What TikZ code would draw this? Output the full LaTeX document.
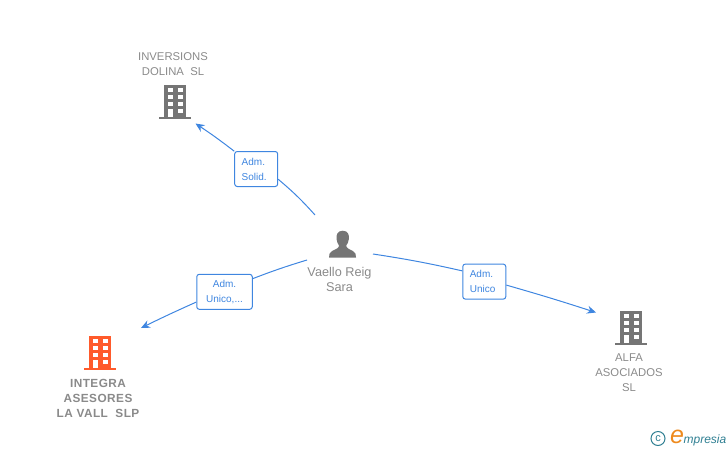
\documentclass[tikz,border=0pt]{standalone}
\usepackage{fontspec}
\setmainfont{Liberation Sans}
\newfontfamily\spacedbold[LetterSpace=4,BoldFont={Liberation Sans Bold}]{Liberation Sans}
\usetikzlibrary{arrows.meta}
\definecolor{relblue}{HTML}{3F86E0}
\definecolor{icongray}{HTML}{757575}
\definecolor{textgray}{HTML}{8A8A8A}
\definecolor{mainorange}{HTML}{FF5A2B}
\definecolor{logoteal}{HTML}{2F7F92}
\definecolor{logoorange}{HTML}{EE8A1E}
\tikzset{
    rel/.style={relblue,line width=1pt},
    relarrow/.style={rel,-{Stealth[length=9pt,width=8pt,inset=3pt]}},
    relbox/.style={draw=relblue,line width=1pt,rounded corners=2.5pt,fill=white,
        minimum height=35pt,inner sep=0pt,align=center,text=relblue,
        font=\fontsize{10}{15}\selectfont},
    relboxleft/.style={relbox,minimum width=43pt,text width=29pt,align=left},
    entity/.style={align=center,text=textgray,inner sep=0pt,
        font=\fontsize{11.3}{15}\selectfont},
    mainentity/.style={align=center,text=textgray,inner sep=0pt,
        font=\spacedbold\bfseries\fontsize{11.8}{15}\selectfont},
    person/.style={align=center,text=textgray,inner sep=0pt,
        font=\fontsize{12.7}{15}\selectfont},
    pics/building/.style={code={
        \fill[#1] (-11,-16) rectangle (11,15.5);
        \fill[#1] (-16,15.5) rectangle (16,18);
        \foreach \y in {-12.7, -5.7, 1.3}
        \foreach \x in {-7.5, 2.5}
        \fill[white] (\x,\y) rectangle (\x+5,\y+3.8);
        \fill[white] (2.5,8) rectangle (7.5,11.8);
        \fill[white] (-7.5,7.5) rectangle (-2.5,15.5);
    }}
}

\begin{document}
\begin{tikzpicture}[x=1pt,y=-1pt]
    \useasboundingbox (0,0) rectangle (728,450);

    % Companies
    \pic at (175,101) {building=icongray};
    \pic at (100,352) {building=mainorange};
    \pic at (631,327) {building=icongray};
    \node[entity] (inversions) at (173,64) {INVERSIONS\\DOLINA\ \ SL};
    \node[mainentity] (integra) at (98,398) {INTEGRA\\ASESORES\\LA VALL\ \ SLP};
    \node[entity] (alfa) at (629,373) {ALFA\\ASOCIADOS\\SL};

    % Person
    \fill[icongray] (342.7,230.7) .. controls (337.5,230.7) and (336,235) .. (336.5,239)
        .. controls (336.8,242) and (338,244) .. (339,245.5)
        .. controls (339.5,248) and (335,249.5) .. (332,251)
        .. controls (329.5,252.2) and (329,254.5) .. (329,257.5)
        -- (356,257.5)
        .. controls (356,254.5) and (355.5,252.2) .. (353,251)
        .. controls (350,249.5) and (345.8,248) .. (346.3,245.5)
        .. controls (347.3,244) and (348.6,242) .. (348.9,239)
        .. controls (349.4,235) and (348,230.7) .. (342.7,230.7) -- cycle;
    \node[person] (vaello) at (339.5,279) {Vaello Reig\\Sara};

    % Roles
    \node[relboxleft] (admsolid) at (256.2,169) {Adm.\\Solid.};
    \node[relbox,minimum width=55.5pt] (admunicos) at (224.5,291.8) {Adm.\\Unico,...};
    \node[relboxleft] (admunico) at (484.3,281.6) {Adm.\\Unico};

    % Free ends
    \coordinate (fromup) at (315,215);
    \coordinate (fromleft) at (307,260);
    \coordinate (fromright) at (373,254);
    \coordinate (toinversions) at (195.5,123.5);
    \coordinate (tointegra) at (141,328);
    \coordinate (toalfa) at (596,312.5);

    % Connectors
    \draw[rel] (fromup) to[bend right=4] (admsolid.-25);
    \draw[relarrow] (admsolid.141) to[bend right=2] (toinversions);
    \draw[rel] (fromleft) to[bend right=2] (admunicos.25);
    \draw[relarrow] (admunicos.200) to[bend right=1] (tointegra);
    \draw[rel] (fromright) to[bend left=2] (admunico.154);
    \draw[relarrow] (admunico.-9) to[bend left=1] (toalfa);

    % Logo
    \node[draw=logoteal,circle,line width=1pt,inner sep=0pt,minimum size=14pt,text=logoteal,
        font=\fontsize{11}{11}\selectfont] (copyright) at (658,438.5) {c};
    \node[anchor=west,inner sep=0pt,text=logoteal,
        font=\fontsize{12}{12}\selectfont\rmfamily\itshape] (empresia) at (670,438)
        {{\color{logoorange}\fontsize{25}{25}\selectfont e}\hspace{-0.5pt}mpresia};
\end{tikzpicture}
\end{document}
